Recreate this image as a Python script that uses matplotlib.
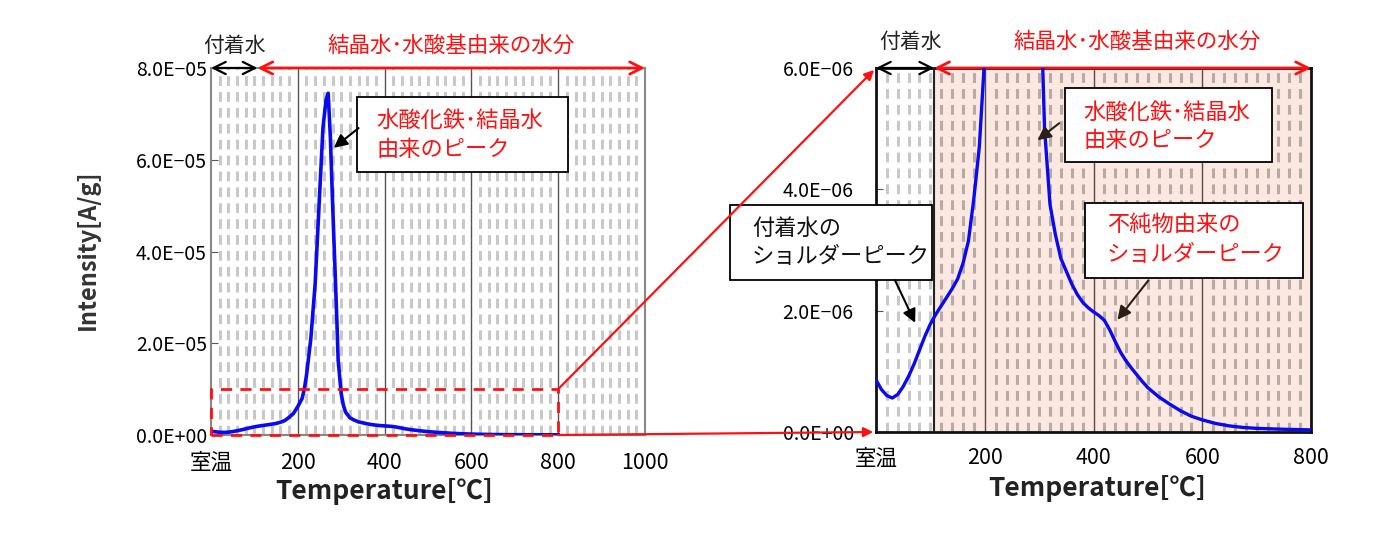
import matplotlib
matplotlib.use("Agg")
import matplotlib.pyplot as plt
import numpy as np
from matplotlib.patches import Rectangle, ConnectionPatch

plt.rcParams['font.family'] = ['Noto Sans CJK JP', 'DejaVu Sans']

# ---- data ----
temp = [0, 10, 20, 30, 40, 50, 60, 70, 80, 90, 100, 110, 120, 130, 140, 150,
        160, 170, 180, 190, 200, 210, 215, 220, 230, 240, 250, 258, 265, 270,
        275, 280, 285, 290, 293, 300, 305, 310, 320, 330, 340, 350, 360, 370,
        380, 390, 400, 410, 420, 430, 440, 450, 460, 470, 480, 490, 500, 520,
        540, 560, 580, 600, 625, 650, 675, 700, 750, 800]
intensity_e6 = [0.86, 0.70, 0.60, 0.56, 0.62, 0.75, 0.92, 1.12, 1.35, 1.58, 1.78,
                1.94, 2.08, 2.22, 2.36, 2.52, 2.78, 3.15, 3.85, 4.70, 6.2, 8.0,
                10.0, 13.0, 21.0, 33.0, 52.0, 67.0, 73.0, 74.5, 65.0, 51.0, 38.0,
                25.0, 16.3, 9.0, 6.5, 5.0, 3.75, 3.25, 2.86, 2.65, 2.44, 2.27,
                2.14, 2.05, 1.98, 1.92, 1.84, 1.68, 1.49, 1.31, 1.17, 1.05, 0.94,
                0.83, 0.73, 0.58, 0.46, 0.35, 0.26, 0.20, 0.14, 0.10, 0.075, 0.06,
                0.045, 0.035]
intensity = np.array(intensity_e6) * 1e-6

left_xticks = [0, 200, 400, 600, 800, 1000]
left_xlabels = ['室温', '200', '400', '600', '800', '1000']
right_xticks = [0, 200, 400, 600, 800]
right_xlabels = ['室温', '200', '400', '600', '800']
left_yticks = [0, 2e-5, 4e-5, 6e-5, 8e-5]
right_yticks = [0, 2e-6, 4e-6, 6e-6]
adhered_end = 107  # boundary of 付着水 region

W, H = 1399, 546
fig = plt.figure(figsize=(W / 100, H / 100), dpi=100)

axL = fig.add_axes([211 / W, 1 - 435 / H, 434 / W, 367 / H])
axR = fig.add_axes([876 / W, 1 - 432 / H, 435 / W, 364 / H])

def fmt(v):
    return f"{v:.1E}".replace('-', '−')

# ---- left chart ----
axL.set_xlim(0, 1000)
axL.set_ylim(0, 8e-5)
for t in range(20, 1000, 20):
    if t % 200 == 0:
        continue
    axL.axvline(t, color='#c8c8c8', lw=2.2, dashes=(3.2, 2.0), zorder=1)
for t in range(200, 1000, 200):
    axL.axvline(t, color='#555555', lw=1.0, zorder=2)
axL.plot(temp, intensity, color='#0a0af0', lw=2.6, zorder=5)
axL.set_xticks(left_xticks)
axL.set_xticklabels(left_xlabels)
axL.set_yticks(left_yticks)
axL.set_yticklabels([fmt(v) for v in left_yticks])
axL.tick_params(axis='x', length=0, pad=12, labelsize=15.5)
axL.tick_params(axis='y', direction='in', length=5, pad=3, labelsize=14, color='#555555')
for s in axL.spines.values():
    s.set_color('#888888')
    s.set_linewidth(1.5)
axL.set_xlabel('Temperature[℃]', fontsize=19, fontweight='bold', color='#222222', va='center')
axL.xaxis.set_label_coords(0.40, -0.155)
axL.set_ylabel('Intensity[A/g]', fontsize=17, fontweight='bold', color='#333333', va='center')
axL.yaxis.set_label_coords(-0.283, 0.504)

# red dashed zoom rectangle
axL.add_patch(Rectangle((0, 0), 800, 1e-5, fill=False, edgecolor='#ff1010', lw=2.0,
                        ls=(0, (4, 3)), zorder=6, clip_on=False))

# range arrows (left)
axL.annotate('', xy=(0, 8e-5), xytext=(adhered_end, 8e-5),
             arrowprops=dict(arrowstyle='<->', color='black', lw=1.6, mutation_scale=22,
                             shrinkA=0, shrinkB=0), annotation_clip=False)
axL.annotate('', xy=(adhered_end, 8e-5), xytext=(1000, 8e-5),
             arrowprops=dict(arrowstyle='<->', color='#ff1010', lw=2.0, mutation_scale=22,
                             shrinkA=0, shrinkB=0), annotation_clip=False)
axL.text(55, 1.06, '付着水', transform=axL.get_xaxis_transform(), ha='center', va='center',
         fontsize=15, color='#222222')
axL.text(554, 1.06, '結晶水･水酸基由来の水分', transform=axL.get_xaxis_transform(),
         ha='center', va='center', fontsize=15.5, color='#ff1010')

# annotation box (left)
axL.add_patch(Rectangle((0.336, 0.717), 0.487, 0.204, transform=axL.transAxes,
                        facecolor='white', edgecolor='black', lw=1.3, zorder=7))
axL.text(0.382, 0.858, '水酸化鉄･結晶水', transform=axL.transAxes, ha='left', va='center',
         fontsize=16, color='#ff1010', zorder=8)
axL.text(0.382, 0.777, '由来のピーク', transform=axL.transAxes, ha='left', va='center',
         fontsize=16, color='#ff1010', zorder=8)
axL.annotate('', xy=(283, 6.26e-5), xytext=(340, 6.69e-5),
             arrowprops=dict(arrowstyle='-|>', color='black', lw=1.5, mutation_scale=20,
                             shrinkA=0, shrinkB=0), zorder=8)

# ---- right chart ----
axR.set_xlim(0, 800)
axR.set_ylim(0, 6e-6)
axR.axvspan(adhered_end, 800, color='#fbe8e0', zorder=0, lw=0)
for t in range(20, 800, 20):
    if t % 200 == 0:
        continue
    col = '#c8c8c8' if t < adhered_end else '#b9aaa5'
    axR.axvline(t, color=col, lw=2.2, dashes=(3.2, 2.0), zorder=1)
for t in range(200, 800, 200):
    axR.axvline(t, color='#5a4a45', lw=1.0, zorder=2)
axR.axvline(adhered_end, color='#222222', lw=1.5, zorder=3)
axR.plot(temp, intensity, color='#0a0af0', lw=2.4, zorder=5, clip_on=True)
axR.set_xticks(right_xticks)
axR.set_xticklabels(right_xlabels)
axR.set_yticks(right_yticks)
axR.set_yticklabels([fmt(v) for v in right_yticks])
axR.tick_params(axis='x', length=0, pad=11, labelsize=15.5)
axR.tick_params(axis='y', direction='in', length=5, pad=16, labelsize=14, color='#555555')
for s in axR.spines.values():
    s.set_color('#111111')
    s.set_linewidth(2.0)
axR.set_xlabel('Temperature[℃]', fontsize=19, fontweight='bold', color='#222222', va='center')
axR.xaxis.set_label_coords(0.508, -0.155)

axR.annotate('', xy=(0, 6e-6), xytext=(adhered_end, 6e-6),
             arrowprops=dict(arrowstyle='<->', color='black', lw=1.6, mutation_scale=22,
                             shrinkA=0, shrinkB=0), annotation_clip=False)
axR.annotate('', xy=(adhered_end, 6e-6), xytext=(800, 6e-6),
             arrowprops=dict(arrowstyle='<->', color='#ff1010', lw=2.0, mutation_scale=22,
                             shrinkA=0, shrinkB=0), annotation_clip=False)
axR.text(63, 1.071, '付着水', transform=axR.get_xaxis_transform(), ha='center', va='center',
         fontsize=15, color='#222222')
axR.text(481, 1.071, '結晶水･水酸基由来の水分', transform=axR.get_xaxis_transform(),
         ha='center', va='center', fontsize=15.5, color='#ff1010')

def box(ax, x0, y0, x1, y1, tx, lines, color):
    ax.add_patch(Rectangle((x0, y0), x1 - x0, y1 - y0, transform=ax.transAxes,
                           facecolor='white', edgecolor='black', lw=1.3, zorder=7,
                           clip_on=False))
    for ty, s in lines:
        ax.text(tx, ty, s, transform=ax.transAxes, ha='left', va='center',
                fontsize=16, color=color, zorder=8)

box(axR, 0.434, 0.742, 0.910, 0.945, 0.476,
    [(0.879, '水酸化鉄･結晶水'), (0.802, '由来のピーク')], '#ff1010')
box(axR, -0.336, 0.418, 0.129, 0.624, -0.285,
    [(0.560, '付着水の'), (0.481, 'ショルダーピーク')], '#111111')
box(axR, 0.480, 0.423, 0.982, 0.629, 0.531,
    [(0.569, '不純物由来の'), (0.489, 'ショルダーピーク')], '#ff1010')

for (xy, xyt, c) in [((297, 4.81e-6), (337, 5.09e-6), '#2b1d17'),
                     ((72, 1.80e-6), (35, 2.5e-6), 'black'),
                     ((444, 1.85e-6), (501, 2.5e-6), '#2b1d17')]:
    axR.annotate('', xy=xy, xytext=xyt,
                 arrowprops=dict(arrowstyle='-|>', color=c, lw=1.5, mutation_scale=20,
                                 shrinkA=0, shrinkB=0), zorder=9, annotation_clip=False)

# connector lines from zoom rectangle to right chart
for (pa, pb) in [((800, 1e-5), (0, 6e-6)), ((800, 0), (0, 0))]:
    con = ConnectionPatch(xyA=pa, coordsA=axL.transData, xyB=pb, coordsB=axR.transData,
                          arrowstyle='-|>', color='#ff1010', lw=1.6, mutation_scale=14,
                          shrinkA=0, shrinkB=2, zorder=10)
    fig.add_artist(con)

fig.savefig('out.png', dpi=100)
